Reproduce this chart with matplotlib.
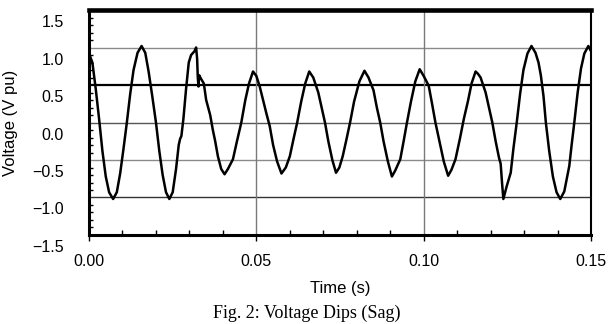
'''
Voltage dip (sag) waveform, Fig. 2.
Values read off the scanned figure by hand.
'''
import matplotlib
matplotlib.use("Agg")
import matplotlib.pyplot as plt
import matplotlib.transforms as mtransforms
from matplotlib.ticker import MultipleLocator

# --- data ---
time_s = [
    0.0000, 0.0010, 0.0020, 0.0030, 0.0040, 0.0050, 0.0060, 0.0072, 0.0083, 0.0093,
    0.0103, 0.0113, 0.0123, 0.0133, 0.0145, 0.0157, 0.0168, 0.0178, 0.0189, 0.0200,
    0.0210, 0.0220, 0.0230, 0.0240, 0.0250, 0.0260, 0.0268, 0.0272, 0.0276, 0.0282,
    0.0290, 0.0298, 0.0305, 0.0315, 0.0320, 0.0323, 0.0325, 0.0327, 0.0329, 0.0335,
    0.0343, 0.0350, 0.0356, 0.0362, 0.0370, 0.0377, 0.0385, 0.0395, 0.0405, 0.0415,
    0.0430, 0.0442, 0.0455, 0.0467, 0.0478, 0.0490, 0.0500, 0.0510, 0.0520, 0.0530,
    0.0540, 0.0550, 0.0562, 0.0575, 0.0588, 0.0600, 0.0611, 0.0622, 0.0634, 0.0646,
    0.0658, 0.0670, 0.0685, 0.0695, 0.0705, 0.0715, 0.0727, 0.0738, 0.0748, 0.0758,
    0.0768, 0.0780, 0.0792, 0.0808, 0.0823, 0.0835, 0.0850, 0.0860, 0.0870, 0.0880,
    0.0893, 0.0905, 0.0915, 0.0930, 0.0940, 0.0950, 0.0962, 0.0975, 0.0988, 0.1000,
    0.1015, 0.1025, 0.1035, 0.1047, 0.1060, 0.1073, 0.1083, 0.1095, 0.1108, 0.1120,
    0.1132, 0.1143, 0.1155, 0.1162, 0.1170, 0.1185, 0.1195, 0.1205, 0.1215, 0.1225,
    0.1230, 0.1234, 0.1238, 0.1248, 0.1260, 0.1268, 0.1278, 0.1288, 0.1298, 0.1310,
    0.1322, 0.1334, 0.1343, 0.1350, 0.1358, 0.1365, 0.1375, 0.1386, 0.1397, 0.1408,
    0.1420, 0.1435, 0.1442, 0.1450, 0.1460, 0.1470, 0.1480, 0.1492, 0.1500,
]
voltage_pu = [
    0.92, 0.80, 0.45, 0.05, -0.38, -0.72, -0.93, -1.02, -0.93, -0.68,
    -0.35, 0.00, 0.38, 0.70, 0.93, 1.02, 0.93, 0.68, 0.35, 0.00,
    -0.38, -0.70, -0.93, -1.02, -0.93, -0.62, -0.30, -0.22, -0.18, 0.05,
    0.45, 0.80, 0.90, 0.95, 1.00, 0.85, 0.60, 0.48, 0.63, 0.58,
    0.52, 0.30, 0.20, 0.10, -0.10, -0.25, -0.45, -0.62, -0.69, -0.62,
    -0.49, -0.25, 0.00, 0.30, 0.52, 0.68, 0.62, 0.48, 0.30, 0.12,
    -0.05, -0.30, -0.52, -0.68, -0.60, -0.45, -0.22, 0.00, 0.28, 0.52,
    0.68, 0.60, 0.40, 0.20, 0.00, -0.25, -0.50, -0.67, -0.60, -0.45,
    -0.25, 0.00, 0.28, 0.55, 0.69, 0.60, 0.43, 0.20, 0.00, -0.25,
    -0.52, -0.72, -0.64, -0.49, -0.25, 0.00, 0.28, 0.55, 0.71, 0.62,
    0.49, 0.25, 0.00, -0.25, -0.52, -0.71, -0.63, -0.49, -0.22, 0.05,
    0.28, 0.52, 0.68, 0.65, 0.60, 0.40, 0.20, 0.00, -0.25, -0.47,
    -0.55, -0.80, -1.02, -0.85, -0.67, -0.35, 0.00, 0.38, 0.70, 0.92,
    1.02, 0.93, 0.80, 0.63, 0.35, 0.00, -0.38, -0.72, -0.93, -1.02,
    -0.92, -0.58, -0.30, 0.00, 0.40, 0.72, 0.92, 1.02, 0.95,
]

x_ticks = [0.00, 0.05, 0.10, 0.15]
x_tick_labels = ["0.00", "0.05", "0.10", "0.15"]
y_ticks = [-1.5, -1.0, -0.5, 0.0, 0.5, 1.0, 1.5]
y_tick_labels = ["\u22121.5", "\u22121.0", "\u22120.5", "0.0", "0.5", "1.0", "1.5"]

plt.rcParams["font.family"] = ["Liberation Sans", "DejaVu Sans"]

fig = plt.figure(figsize=(6.14, 3.24), dpi=100)
ax = fig.add_axes([0.145, 0.2747, 0.8176, 0.6944])

# grid lines, each drawn a bit differently like the scan
hgrid_style = {1.0: ("#8a8a8a", 1.0), 0.5: ("#000000", 1.6), 0.0: ("#555555", 1.0),
               -0.5: ("#8a8a8a", 1.0), -1.0: ("#333333", 1.0)}
for level, (col, lw) in hgrid_style.items():
    ax.axhline(level, color=col, lw=lw, zorder=1)
for xv in x_ticks[1:3]:
    ax.axvline(xv, color="#7a7a7a", lw=1.0, zorder=1)

ax.plot(time_s, voltage_pu, color="black", lw=1.8, zorder=3,
        solid_joinstyle="round")

ax.set_xlim(0.0, 0.15)
ax.set_ylim(-1.5, 1.5)

ax.set_xticks(x_ticks)
ax.set_xticklabels(x_tick_labels, fontsize=11.5)
ax.set_yticks(y_ticks)
ax.set_yticklabels(y_tick_labels, fontsize=11.5)

ax.xaxis.set_minor_locator(MultipleLocator(0.01))
ax.yaxis.set_minor_locator(MultipleLocator(0.1))
ax.tick_params(axis="x", which="major", direction="out", length=4, width=1.0, pad=10)
ax.tick_params(axis="x", which="minor", direction="in", length=3.5, width=1.0)
ax.tick_params(axis="y", which="major", direction="in", length=0, pad=18)
ax.tick_params(axis="y", which="minor", direction="in", length=3, width=1.0)

# y labels sit lower than their grid lines in the original
shift = mtransforms.ScaledTranslation(0, -11 / 100, fig.dpi_scale_trans)
for lab in ax.get_yticklabels():
    lab.set_transform(lab.get_transform() + shift)

for side, lw in [("top", 3.3), ("left", 2.2), ("bottom", 2.2), ("right", 1.5)]:
    ax.spines[side].set_linewidth(lw)

ax.set_xlabel("Time (s)", fontsize=12, va="center")
ax.xaxis.set_label_coords(0.5, -0.236)
ax.set_ylabel("Voltage (V pu)", fontsize=12, va="center")
ax.yaxis.set_label_coords(-0.157, 0.5)

fig.text(0.5, 1 - 313 / 324, "Fig. 2: Voltage Dips (Sag)", ha="center", va="center",
         fontsize=13, family=["Liberation Serif", "DejaVu Serif"])

plt.savefig("out.png", dpi=100)
plt.close()
